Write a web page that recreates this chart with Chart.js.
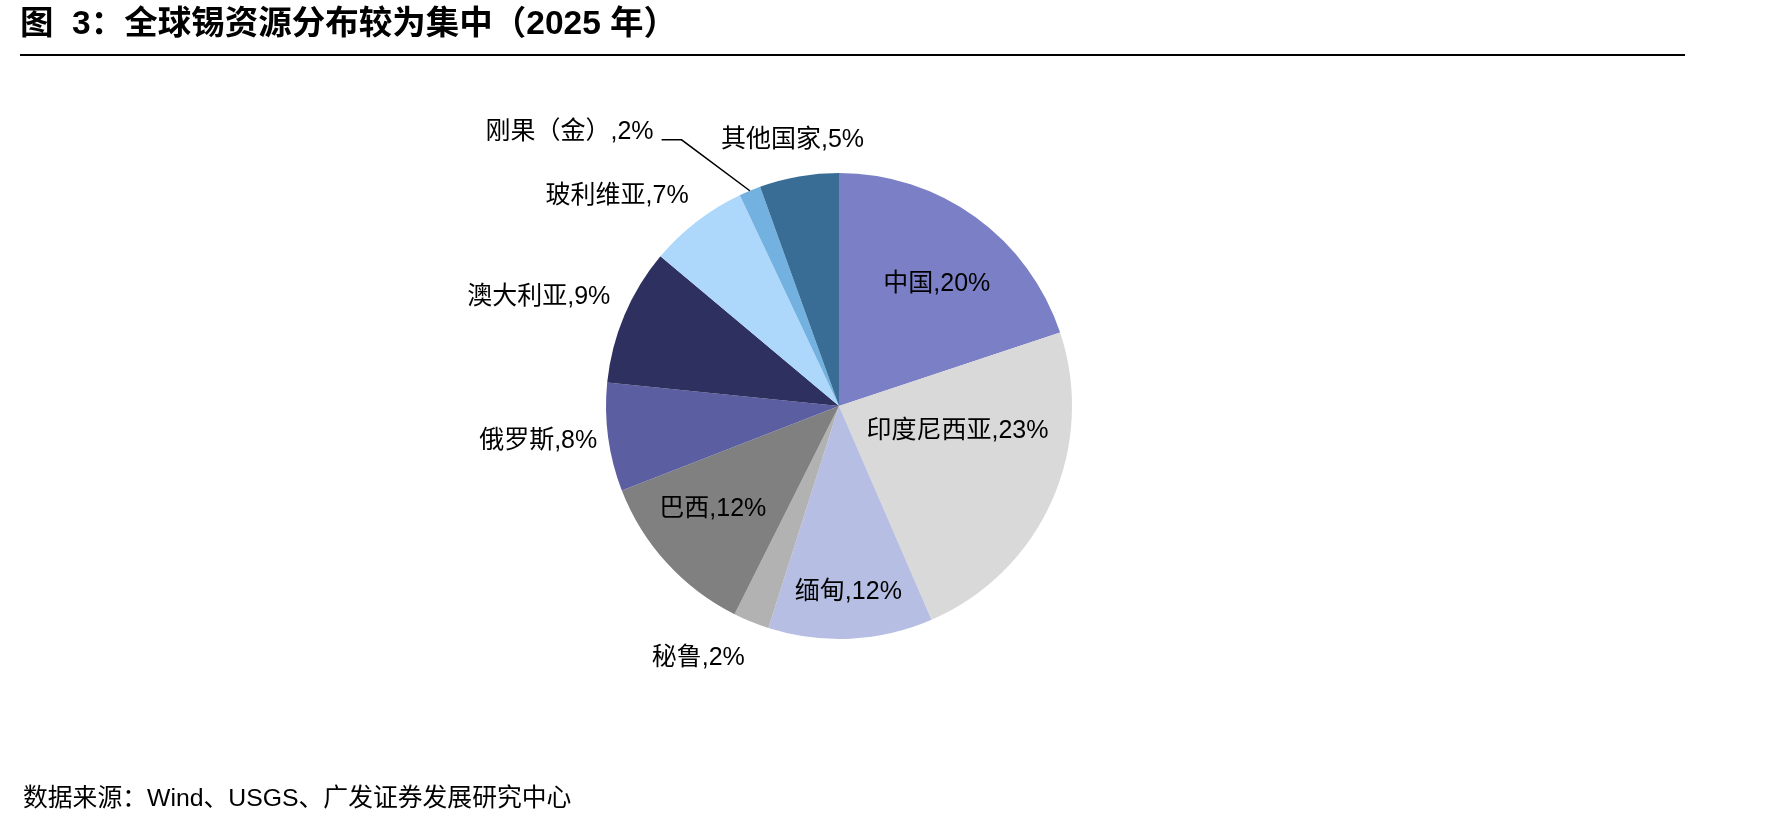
<!DOCTYPE html>
<html>
<head>
<meta charset="utf-8">
<script src="https://cdn.jsdelivr.net/npm/chart.js@4.4.1/dist/chart.umd.min.js"></script>
<style>
  html, body { margin: 0; padding: 0; background: #fff; }
  #wrap { position: relative; width: 1790px; height: 827px; overflow: hidden; }
  #title { position: absolute; left: 20px; top: -5px; line-height: 34px; font: bold 33.5px "Liberation Sans", "Noto Sans CJK SC", sans-serif; color: #000; white-space: pre; }
  #rule { position: absolute; left: 20px; top: 54px; width: 1665px; height: 2px; background: #000; }
  #source { position: absolute; left: 23px; top: 777px; line-height: 25px; font: 24.8px "Liberation Sans", "Noto Sans CJK SC", sans-serif; color: #000; white-space: pre; }
  #pie { position: absolute; left: 0; top: 0; }
</style>
</head>
<body>
<div id="wrap">
  <canvas id="pie" width="1790" height="827"></canvas>
  <div id="title">图  3：全球锡资源分布较为集中（2025 年）</div>
  <div id="rule"></div>
  <div id="source">数据来源：Wind、USGS、广发证券发展研究中心</div>
</div>
<script>
// tin reserves share by country, clockwise from 12 o'clock
const countries = ['中国', '印度尼西亚', '缅甸', '秘鲁', '巴西', '俄罗斯', '澳大利亚', '玻利维亚', '刚果（金）', '其他国家'];
const shares = [19.9, 23.6, 11.4, 2.5, 11.7, 7.5, 9.5, 6.9, 1.5, 5.5];
const shareLabels = ['20%', '23%', '12%', '2%', '12%', '8%', '9%', '7%', '2%', '5%'];

const sliceColors = ['#7B80C6', '#D9D9D9', '#B6BEE3', '#B2B2B2', '#808080',
                     '#5B5EA0', '#2E305F', '#ADD8FB', '#73B2E0', '#396D96'];

// where each label sits: r = fraction of radius, da = degrees off the slice middle
const labelPlace = [
  {r: 0.67, da: 3}, {r: 0.52, da: -12}, {r: 0.80, da: 0}, {r: 1.24, da: 7},
  {r: 0.70, da: 3}, {r: 1.30, da: 1}, {r: 1.37, da: -3}, {r: 1.31, da: -9},
  {r: 1.65, da: -22, leader: true}, {r: 1.16, da: 0}
];

const sliceLabels = {
  id: 'sliceLabels',
  afterDatasetsDraw(chart) {
    const ctx = chart.ctx;
    const arcs = chart.getDatasetMeta(0).data;
    ctx.save();
    ctx.font = '25px "Liberation Sans", "Noto Sans CJK SC", sans-serif';
    ctx.fillStyle = '#000';
    ctx.textAlign = 'center';
    ctx.textBaseline = 'middle';
    arcs.forEach((arc, i) => {
      const p = labelPlace[i];
      const midA = (arc.startAngle + arc.endAngle) / 2;
      const a = midA + p.da * Math.PI / 180;
      const R = arc.outerRadius;
      const x = arc.x + Math.cos(a) * R * p.r;
      const y = arc.y + Math.sin(a) * R * p.r;
      const text = countries[i] + ',' + shareLabels[i];
      ctx.fillText(text, x, y);
      if (p.leader) {
        const w = ctx.measureText(text).width;
        const ex = arc.x + Math.cos(midA) * R;
        const ey = arc.y + Math.sin(midA) * R;
        ctx.beginPath();
        ctx.moveTo(x + w / 2 + 8, y + 8);
        ctx.lineTo(x + w / 2 + 28, y + 8);
        ctx.lineTo(ex, ey);
        ctx.strokeStyle = '#000';
        ctx.lineWidth = 1.5;
        ctx.stroke();
      }
    });
    ctx.restore();
  }
};

new Chart(document.getElementById('pie'), {
  type: 'pie',
  data: {
    labels: countries,
    datasets: [{
      data: shares,
      backgroundColor: sliceColors,
      borderWidth: 0
    }]
  },
  options: {
    responsive: false,
    animation: false,
    layout: { padding: { left: 606, right: 718, top: 173, bottom: 188 } },
    plugins: {
      legend: { display: false },
      tooltip: { enabled: false }
    }
  },
  plugins: [sliceLabels]
});
</script>
</body>
</html>
